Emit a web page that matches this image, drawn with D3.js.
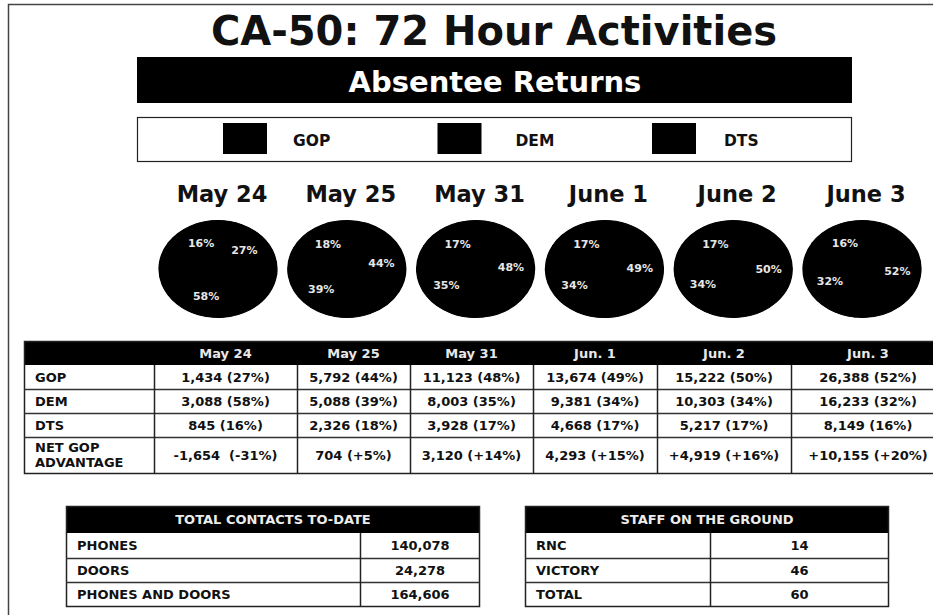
<!DOCTYPE html>
<html>
<head>
<meta charset="utf-8">
<script src="https://cdn.jsdelivr.net/npm/d3@7"></script>
<style>
  body { margin: 0; background: #fff; }
  svg { display: block; }
  text { font-family: "DejaVu Sans", Verdana, sans-serif; font-weight: bold; }
</style>
</head>
<body>
<svg id="chart" width="933" height="615"></svg>
<script>
// values
var dates = ["May 24", "May 25", "May 31", "June 1", "June 2", "June 3"];
var colHeads = ["May 24", "May 25", "May 31", "Jun. 1", "Jun. 2", "Jun. 3"];
var parties = ["GOP", "DEM", "DTS"];
var gopVotes = [1434, 5792, 11123, 13674, 15222, 26388];
var demVotes = [3088, 5088, 8003, 9381, 10303, 16233];
var dtsVotes = [845, 2326, 3928, 4668, 5217, 8149];
var gopPct = [27, 44, 48, 49, 50, 52];
var demPct = [58, 39, 35, 34, 34, 32];
var dtsPct = [16, 18, 17, 17, 17, 16];
var netLabels = ["-1,654  (-31%)", "704 (+5%)", "3,120 (+14%)", "4,293 (+15%)", "+4,919 (+16%)", "+10,155 (+20%)"];
var contactLabels = ["PHONES", "DOORS", "PHONES AND DOORS"];
var contactValues = [140078, 24278, 164606];
var staffLabels = ["RNC", "VICTORY", "TOTAL"];
var staffValues = [14, 46, 60];

var svg = d3.select("#chart");
var fmt = d3.format(",");

// page edge of the scan
svg.append("path")
  .attr("d", "M8.5,640 L8.5,4.5 L940,4.5")
  .attr("fill", "none")
  .attr("stroke", "#444")
  .attr("stroke-width", 1.5);

// title
svg.append("text")
  .attr("x", 494).attr("y", 45)
  .attr("text-anchor", "middle")
  .style("font-size", "40px")
  .attr("fill", "#111")
  .text("CA-50: 72 Hour Activities");

// black banner
svg.append("rect")
  .attr("x", 137).attr("y", 57).attr("width", 715).attr("height", 46)
  .attr("fill", "#000");
svg.append("text")
  .attr("x", 495).attr("y", 92)
  .attr("text-anchor", "middle")
  .style("font-size", "29px")
  .attr("fill", "#fff")
  .text("Absentee Returns");

// legend
svg.append("rect")
  .attr("x", 137.5).attr("y", 117.5).attr("width", 714).attr("height", 44)
  .attr("fill", "#fff").attr("stroke", "#222").attr("stroke-width", 1.2);

var legendX = d3.scalePoint().domain(parties).range([223, 652]);
var leg = svg.selectAll("g.leg").data(parties).enter().append("g")
  .attr("class", "leg")
  .attr("transform", function(d) { return "translate(" + legendX(d) + ",0)"; });
leg.append("rect")
  .attr("x", 0).attr("y", 123).attr("width", 44).attr("height", 31)
  .attr("fill", "#000");
leg.append("text")
  .attr("x", function(d, i) { return [70, 78, 72][i]; })
  .attr("y", 146)
  .style("font-size", "15.5px")
  .attr("fill", "#111")
  .text(function(d) { return d; });

// pies
var rx = 59, ry = 48.5, cy = 269;
var pieX = d3.scalePoint().domain(dates).range([218, 862]);
var pie = d3.pie().sort(null).value(function(d) { return d.v; });
var arc = d3.arc().innerRadius(0).outerRadius(ry);
var labelArc = d3.arc().innerRadius(ry * 0.6).outerRadius(ry * 0.6);

dates.forEach(function(date, i) {
  var slices = pie([
    { party: "GOP", v: gopPct[i] },
    { party: "DEM", v: demPct[i] },
    { party: "DTS", v: dtsPct[i] }
  ]);
  var cx = pieX(date);

  svg.append("text")
    .attr("x", cx + 4).attr("y", 202)
    .attr("text-anchor", "middle")
    .style("font-size", "22.5px")
    .attr("fill", "#111")
    .text(date);

  var g = svg.append("g")
    .attr("transform", "translate(" + cx + "," + cy + ") scale(" + (rx / ry) + ",1)");
  // solid base so the slice seams do not show through
  g.append("circle").attr("r", ry).attr("fill", "#000");
  g.selectAll("path").data(slices).enter().append("path")
    .attr("d", arc)
    .attr("fill", "#000")
    .attr("stroke", "#000")
    .attr("stroke-width", 1);

  svg.selectAll(null).data(slices).enter().append("text")
    .attr("x", function(d) { return cx + labelArc.centroid(d)[0] * rx / ry; })
    .attr("y", function(d) { return cy + labelArc.centroid(d)[1] + 4; })
    .attr("text-anchor", "middle")
    .style("font-size", "11px")
    .attr("fill", "#e6e6e6")
    .text(function(d) { return d.data.v + "%"; });
});

// main table
var colEdges = [24, 154, 297, 410, 533, 657, 791, 945];
var rowEdges = [341, 365, 389, 413, 437, 473];
var rows = [
  { label: ["GOP"], cells: gopVotes.map(function(v, i) { return fmt(v) + " (" + gopPct[i] + "%)"; }) },
  { label: ["DEM"], cells: demVotes.map(function(v, i) { return fmt(v) + " (" + demPct[i] + "%)"; }) },
  { label: ["DTS"], cells: dtsVotes.map(function(v, i) { return fmt(v) + " (" + dtsPct[i] + "%)"; }) },
  { label: ["NET GOP", "ADVANTAGE"], cells: netLabels }
];

var tbl = svg.append("g").attr("class", "table");
tbl.append("rect")
  .attr("x", colEdges[0]).attr("y", rowEdges[0])
  .attr("width", colEdges[7] - colEdges[0]).attr("height", rowEdges[1] - rowEdges[0])
  .attr("fill", "#000");
tbl.append("rect")
  .attr("x", colEdges[0] + 0.5).attr("y", rowEdges[0] + 0.5)
  .attr("width", colEdges[7] - colEdges[0]).attr("height", rowEdges[5] - rowEdges[0])
  .attr("fill", "none").attr("stroke", "#222").attr("stroke-width", 1.5);
rowEdges.slice(2, 5).forEach(function(y) {
  tbl.append("line")
    .attr("x1", colEdges[0]).attr("x2", colEdges[7])
    .attr("y1", y + 0.5).attr("y2", y + 0.5)
    .attr("stroke", "#333").attr("stroke-width", 1.3);
});
colEdges.slice(1, 7).forEach(function(x) {
  tbl.append("line")
    .attr("x1", x + 0.5).attr("x2", x + 0.5)
    .attr("y1", rowEdges[1]).attr("y2", rowEdges[5])
    .attr("stroke", "#222").attr("stroke-width", 1.5);
});
colHeads.forEach(function(h, i) {
  tbl.append("text")
    .attr("x", (colEdges[i + 1] + colEdges[i + 2]) / 2)
    .attr("y", 358)
    .attr("text-anchor", "middle")
    .style("font-size", "13px")
    .attr("fill", "#e8e8e8")
    .text(h);
});
rows.forEach(function(r, ri) {
  var y0 = rowEdges[ri + 1], y1 = rowEdges[ri + 2], mid = (y0 + y1) / 2;
  r.label.forEach(function(t, li) {
    tbl.append("text")
      .attr("x", 35)
      .attr("y", mid + 4.5 + (li - (r.label.length - 1) / 2) * 15)
      .style("font-size", "13px")
      .attr("fill", "#111")
      .text(t);
  });
  r.cells.forEach(function(t, ci) {
    tbl.append("text")
      .attr("x", (colEdges[ci + 1] + colEdges[ci + 2]) / 2)
      .attr("y", mid + 4.5)
      .attr("text-anchor", "middle")
      .style("font-size", "13px")
      .attr("fill", "#111")
      .style("white-space", "pre")
      .text(t);
  });
});

// small summary tables
function smallTable(x0, x1, xDiv, title, labels, values) {
  var ys = [506, 533, 558, 582, 606];
  var g = svg.append("g");
  g.append("rect")
    .attr("x", x0).attr("y", ys[0]).attr("width", x1 - x0).attr("height", ys[1] - ys[0])
    .attr("fill", "#000");
  g.append("rect")
    .attr("x", x0 + 0.5).attr("y", ys[0] + 0.5).attr("width", x1 - x0 - 1).attr("height", ys[4] - ys[0])
    .attr("fill", "none").attr("stroke", "#222").attr("stroke-width", 1.5);
  ys.slice(2, 4).forEach(function(y) {
    g.append("line")
      .attr("x1", x0).attr("x2", x1).attr("y1", y + 0.5).attr("y2", y + 0.5)
      .attr("stroke", "#333").attr("stroke-width", 1.3);
  });
  g.append("line")
    .attr("x1", xDiv + 0.5).attr("x2", xDiv + 0.5).attr("y1", ys[1]).attr("y2", ys[4])
    .attr("stroke", "#222").attr("stroke-width", 1.5);
  g.append("text")
    .attr("x", (x0 + x1) / 2).attr("y", 524)
    .attr("text-anchor", "middle")
    .style("font-size", "13px")
    .attr("fill", "#ececec")
    .text(title);
  labels.forEach(function(l, i) {
    var mid = (ys[i + 1] + ys[i + 2]) / 2;
    g.append("text")
      .attr("x", x0 + 11).attr("y", mid + 4.5)
      .style("font-size", "13px")
      .attr("fill", "#111")
      .text(l);
    g.append("text")
      .attr("x", (xDiv + x1) / 2).attr("y", mid + 4.5)
      .attr("text-anchor", "middle")
      .style("font-size", "13px")
      .attr("fill", "#111")
      .text(fmt(values[i]));
  });
}
smallTable(66, 480, 360, "TOTAL CONTACTS TO-DATE", contactLabels, contactValues);
smallTable(525, 889, 710, "STAFF ON THE GROUND", staffLabels, staffValues);
</script>
</body>
</html>
